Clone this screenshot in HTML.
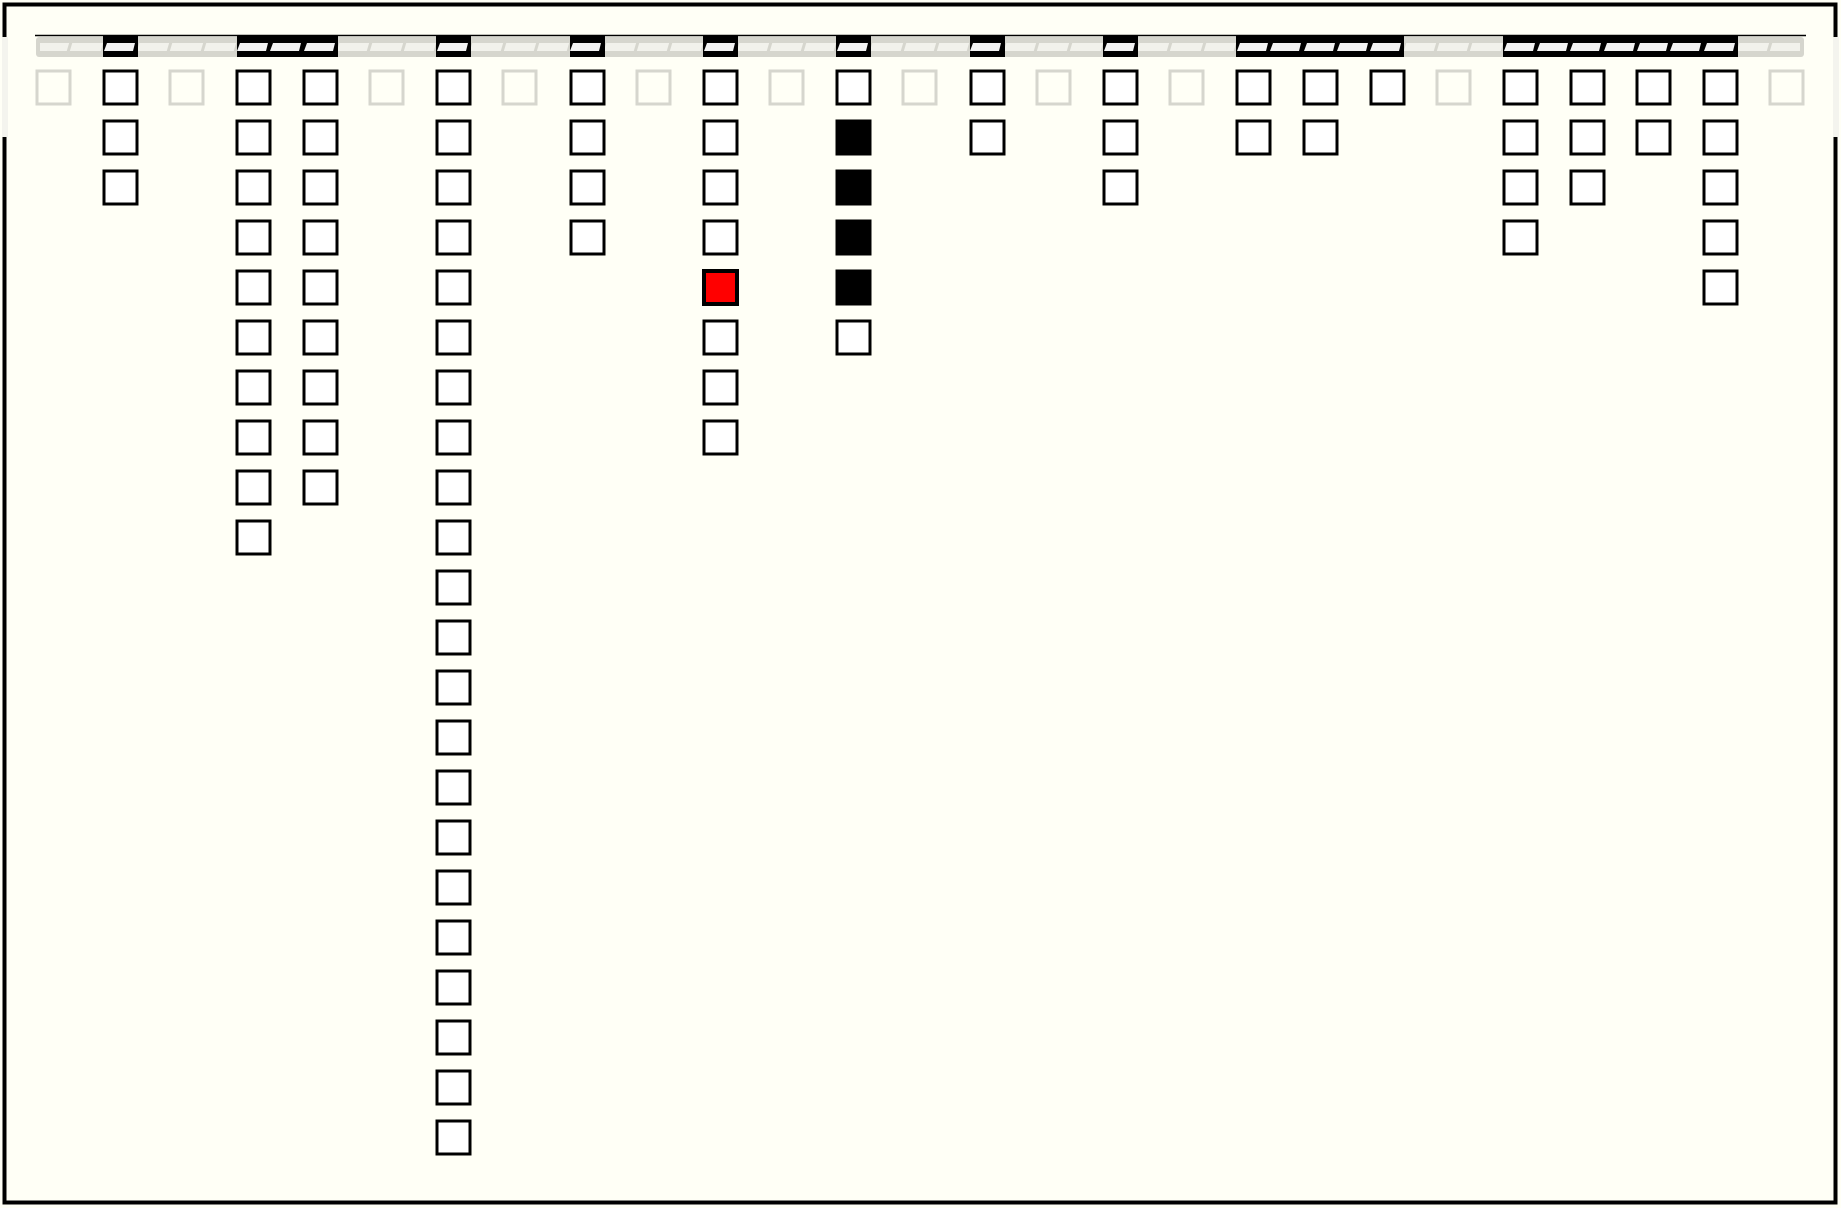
<!DOCTYPE html>
<html><head><meta charset="utf-8"><style>html,body{margin:0;padding:0;background:#fffff6}svg{display:block}</style></head>
<body>
<svg width="1841" height="1208" viewBox="0 0 1841 1208" xmlns="http://www.w3.org/2000/svg">
<defs>
<rect id="b" x="0" y="0" width="33" height="33" fill="#fff" stroke="#000" stroke-width="3"/>
<rect id="g" x="0" y="0" width="33" height="33" fill="#fffff6" stroke="#d6d6ce" stroke-width="3"/>
<rect id="f" x="0" y="0" width="33" height="33" fill="#000" stroke="#000" stroke-width="3"/>
<polygon id="p" points="4,43 32,43 30,51 1,51" fill="#f2f2f2"/>
<line id="d" x1="2" y1="42" x2="-1" y2="52" stroke="#d6d6ce" stroke-width="3"/>
</defs>
<rect x="0" y="0" width="1841" height="1208" fill="#fffff6"/>
<rect x="4.5" y="4.5" width="1831" height="1198" fill="none" stroke="#000" stroke-width="4"/>
<rect x="2" y="37" width="6" height="100" fill="#f4f4ee"/>
<rect x="1833" y="37" width="6" height="100" fill="#f4f4ee"/>
<!-- top bar -->
<rect x="36" y="37" width="1768" height="20" rx="3" fill="#d6d6ce"/>
<rect x="40" y="43" width="1760" height="8" fill="#f2f2ec"/>
<g>
<use href="#d" x="69"/><use href="#d" x="103"/><use href="#d" x="136"/><use href="#d" x="169"/><use href="#d" x="203"/><use href="#d" x="236"/><use href="#d" x="269"/><use href="#d" x="303"/><use href="#d" x="336"/><use href="#d" x="369"/><use href="#d" x="403"/><use href="#d" x="436"/><use href="#d" x="469"/><use href="#d" x="503"/><use href="#d" x="536"/><use href="#d" x="569"/><use href="#d" x="603"/><use href="#d" x="636"/><use href="#d" x="669"/><use href="#d" x="703"/><use href="#d" x="736"/><use href="#d" x="769"/><use href="#d" x="803"/><use href="#d" x="836"/><use href="#d" x="869"/><use href="#d" x="903"/><use href="#d" x="936"/><use href="#d" x="969"/><use href="#d" x="1003"/><use href="#d" x="1036"/><use href="#d" x="1069"/><use href="#d" x="1103"/><use href="#d" x="1136"/><use href="#d" x="1169"/><use href="#d" x="1203"/><use href="#d" x="1236"/><use href="#d" x="1269"/><use href="#d" x="1303"/><use href="#d" x="1336"/><use href="#d" x="1369"/><use href="#d" x="1403"/><use href="#d" x="1436"/><use href="#d" x="1469"/><use href="#d" x="1503"/><use href="#d" x="1536"/><use href="#d" x="1569"/><use href="#d" x="1603"/><use href="#d" x="1636"/><use href="#d" x="1669"/><use href="#d" x="1703"/><use href="#d" x="1736"/><use href="#d" x="1769"/>
</g>
<!-- black spans -->
<g fill="#000">
<rect x="103" y="36" width="35" height="21"/>
<rect x="237" y="36" width="101" height="21"/>
<rect x="436" y="36" width="35" height="21"/>
<rect x="570" y="36" width="35" height="21"/>
<rect x="703" y="36" width="35" height="21"/>
<rect x="836" y="36" width="35" height="21"/>
<rect x="970" y="36" width="35" height="21"/>
<rect x="1103" y="36" width="35" height="21"/>
<rect x="1236" y="36" width="168" height="21"/>
<rect x="1503" y="36" width="235" height="21"/>
</g>
<use href="#p" x="103"/>
<use href="#p" x="236"/><use href="#p" x="269"/><use href="#p" x="303"/>
<use href="#p" x="436"/><use href="#p" x="569"/><use href="#p" x="703"/><use href="#p" x="836"/><use href="#p" x="969"/><use href="#p" x="1103"/>
<use href="#p" x="1236"/><use href="#p" x="1269"/><use href="#p" x="1303"/><use href="#p" x="1336"/><use href="#p" x="1369"/>
<use href="#p" x="1503"/><use href="#p" x="1536"/><use href="#p" x="1569"/><use href="#p" x="1603"/><use href="#p" x="1636"/><use href="#p" x="1669"/><use href="#p" x="1703"/>
<line x1="35" y1="35.5" x2="1806" y2="35.5" stroke="#000" stroke-width="1.5"/>
<!-- grey boxes -->
<use href="#g" x="37" y="71"/><use href="#g" x="170" y="71"/><use href="#g" x="370" y="71"/><use href="#g" x="503" y="71"/><use href="#g" x="637" y="71"/><use href="#g" x="770" y="71"/><use href="#g" x="903" y="71"/><use href="#g" x="1037" y="71"/><use href="#g" x="1170" y="71"/><use href="#g" x="1437" y="71"/><use href="#g" x="1770" y="71"/>
<g transform="translate(104,71)"><use href="#b"/><use href="#b" y="50"/><use href="#b" y="100"/></g>
<g transform="translate(237,71)"><use href="#b"/><use href="#b" y="50"/><use href="#b" y="100"/><use href="#b" y="150"/><use href="#b" y="200"/><use href="#b" y="250"/><use href="#b" y="300"/><use href="#b" y="350"/><use href="#b" y="400"/><use href="#b" y="450"/></g>
<g transform="translate(304,71)"><use href="#b"/><use href="#b" y="50"/><use href="#b" y="100"/><use href="#b" y="150"/><use href="#b" y="200"/><use href="#b" y="250"/><use href="#b" y="300"/><use href="#b" y="350"/><use href="#b" y="400"/></g>
<g transform="translate(437,71)"><use href="#b"/><use href="#b" y="50"/><use href="#b" y="100"/><use href="#b" y="150"/><use href="#b" y="200"/><use href="#b" y="250"/><use href="#b" y="300"/><use href="#b" y="350"/><use href="#b" y="400"/><use href="#b" y="450"/><use href="#b" y="500"/><use href="#b" y="550"/><use href="#b" y="600"/><use href="#b" y="650"/><use href="#b" y="700"/><use href="#b" y="750"/><use href="#b" y="800"/><use href="#b" y="850"/><use href="#b" y="900"/><use href="#b" y="950"/><use href="#b" y="1000"/><use href="#b" y="1050"/></g>
<g transform="translate(571,71)"><use href="#b"/><use href="#b" y="50"/><use href="#b" y="100"/><use href="#b" y="150"/></g>
<g transform="translate(704,71)"><use href="#b"/><use href="#b" y="50"/><use href="#b" y="100"/><use href="#b" y="150"/><rect x="0" y="200" width="33" height="33" fill="#ff0000" stroke="#000" stroke-width="4"/><use href="#b" y="250"/><use href="#b" y="300"/><use href="#b" y="350"/></g>
<g transform="translate(837,71)"><use href="#b"/><use href="#f" y="50"/><use href="#f" y="100"/><use href="#f" y="150"/><use href="#f" y="200"/><use href="#b" y="250"/></g>
<g transform="translate(971,71)"><use href="#b"/><use href="#b" y="50"/></g>
<g transform="translate(1104,71)"><use href="#b"/><use href="#b" y="50"/><use href="#b" y="100"/></g>
<g transform="translate(1237,71)"><use href="#b"/><use href="#b" y="50"/></g>
<g transform="translate(1304,71)"><use href="#b"/><use href="#b" y="50"/></g>
<g transform="translate(1371,71)"><use href="#b"/></g>
<g transform="translate(1504,71)"><use href="#b"/><use href="#b" y="50"/><use href="#b" y="100"/><use href="#b" y="150"/></g>
<g transform="translate(1571,71)"><use href="#b"/><use href="#b" y="50"/><use href="#b" y="100"/></g>
<g transform="translate(1637,71)"><use href="#b"/><use href="#b" y="50"/></g>
<g transform="translate(1704,71)"><use href="#b"/><use href="#b" y="50"/><use href="#b" y="100"/><use href="#b" y="150"/><use href="#b" y="200"/></g>
</svg>
</body></html>
